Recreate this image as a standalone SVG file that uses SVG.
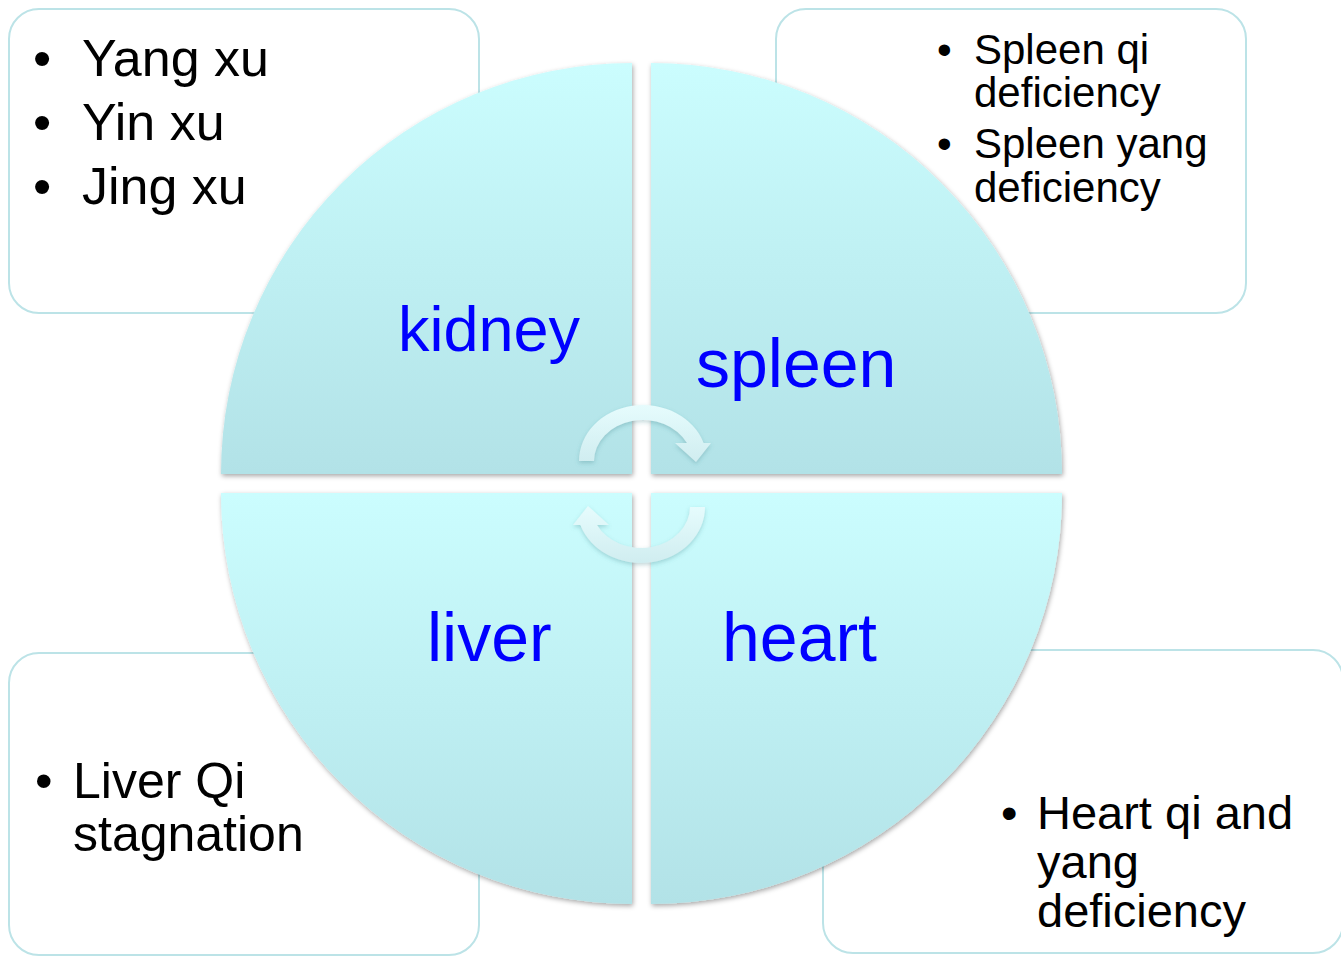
<svg xmlns="http://www.w3.org/2000/svg" width="1341" height="956" viewBox="0 0 1341 956">
<defs>
<linearGradient id="qg" x1="0" y1="0" x2="0" y2="1">
<stop offset="0" stop-color="#CBFDFE"/>
<stop offset="1" stop-color="#B2E2E7"/>
</linearGradient>
<linearGradient id="ag" x1="0" y1="0" x2="0" y2="1">
<stop offset="0" stop-color="#E6FCFD"/>
<stop offset="1" stop-color="#D0EDF0"/>
</linearGradient>
<filter id="sh" x="-10%" y="-10%" width="120%" height="120%">
<feDropShadow dx="1" dy="2" stdDeviation="2.5" flood-color="#000" flood-opacity="0.35"/>
</filter>
<filter id="ash" x="-20%" y="-20%" width="140%" height="140%">
<feDropShadow dx="0" dy="2" stdDeviation="2" flood-color="#3a7f86" flood-opacity="0.3"/>
</filter>
</defs>
<style>
.box{fill:#FFFFFF;stroke:#BCE3E7;stroke-width:2}
.quad{fill:url(#qg);filter:url(#sh)}
.arrow{fill:url(#ag);filter:url(#ash)}
.lbl{font-family:"Liberation Sans",Arial,sans-serif;fill:#0000FF}
.txt{font-family:"Liberation Sans",Arial,sans-serif;fill:#000000}
</style>

<g id="box-kidney">
<rect class="box" x="9" y="9" width="470" height="304" rx="30"/>
<text class="txt" font-size="52"><tspan x="33" y="76">•</tspan><tspan x="82" y="76">Yang xu</tspan></text>
<text class="txt" font-size="52"><tspan x="33" y="140">•</tspan><tspan x="82" y="140">Yin xu</tspan></text>
<text class="txt" font-size="52"><tspan x="33" y="204">•</tspan><tspan x="82" y="204">Jing xu</tspan></text>
</g>
<g id="box-spleen">
<rect class="box" x="776" y="9" width="470" height="304" rx="30"/>
<text class="txt" font-size="42"><tspan x="937" y="64">•</tspan><tspan x="974" y="64">Spleen qi</tspan><tspan x="974" y="107">deficiency</tspan></text>
<text class="txt" font-size="42"><tspan x="937" y="158">•</tspan><tspan x="974" y="158">Spleen yang</tspan><tspan x="974" y="202">deficiency</tspan></text>
</g>
<g id="box-liver">
<rect class="box" x="9" y="653" width="470" height="302" rx="30"/>
<text class="txt" font-size="50"><tspan x="35" y="798">•</tspan><tspan x="73" y="798">Liver Qi</tspan><tspan x="73" y="851">stagnation</tspan></text>
</g>
<g id="box-heart">
<rect class="box" x="823" y="650" width="520" height="303" rx="30"/>
<text class="txt" font-size="47"><tspan x="1001" y="829">•</tspan><tspan x="1037" y="829">Heart qi and</tspan><tspan x="1037" y="878">yang</tspan><tspan x="1037" y="927">deficiency</tspan></text>
</g>

<g id="quad-kidney">
<path class="quad" d="M632,474 L221,474 A411,411 0 0 1 632,63 Z"/>
<text class="lbl" x="398" y="351" font-size="63">kidney</text>
</g>
<g id="quad-spleen">
<path class="quad" d="M651,474 L651,63 A411,411 0 0 1 1062,474 Z"/>
<text class="lbl" x="696" y="387" font-size="68">spleen</text>
</g>
<g id="quad-liver">
<path class="quad" d="M632,493 L632,904 A411,411 0 0 1 221,493 Z"/>
<text class="lbl" x="427" y="661" font-size="68">liver</text>
</g>
<g id="quad-heart">
<path class="quad" d="M651,493 L1062,493 A411,411 0 0 1 651,904 Z"/>
<text class="lbl" x="722" y="661" font-size="68">heart</text>
</g>

<g id="connectors">
<path class="arrow" d="M579,461 A64,56 0 0 1 703.6,443 L711,443 L696,462 L675,443 L687,443 A49,41 0 0 0 594,461 Z"/>
<path class="arrow" d="M705,507 A64,56 0 0 1 580.4,525 L573,525 L588,506 L609,525 L597,525 A49,41 0 0 0 690,507 Z"/>
</g>
</svg>
